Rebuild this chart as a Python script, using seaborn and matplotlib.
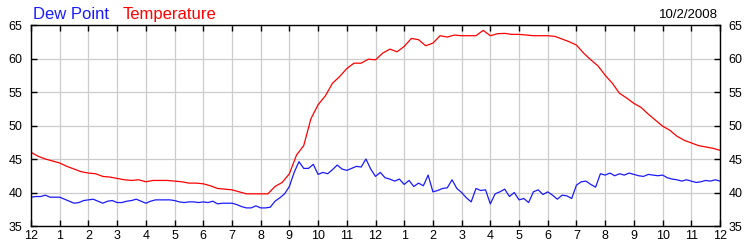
import numpy as np
import pandas as pd
import matplotlib
matplotlib.use("Agg")
import matplotlib.pyplot as plt
import seaborn as sns

# ---- data ----
hour_labels = ["12", "1", "2", "3", "4", "5", "6", "7", "8", "9", "10", "11",
               "12", "1", "2", "3", "4", "5", "6", "7", "8", "9", "10", "11", "12"]

# temperature, every 15 minutes from midnight to midnight
temperature = [
    46.0, 45.4, 45.0, 44.7, 44.4, 43.9, 43.5, 43.1, 42.9, 42.8, 42.4, 42.3,
    42.1, 41.9, 41.8, 41.9, 41.6, 41.8, 41.8, 41.8, 41.7, 41.6, 41.4, 41.4,
    41.3, 41.0, 40.6, 40.5, 40.4, 40.1, 39.8, 39.8, 39.8, 39.8, 40.9, 41.5,
    42.8, 45.6, 47.0, 51.0, 53.1, 54.4, 56.3, 57.3, 58.5, 59.3, 59.3, 59.9,
    59.8, 60.8, 61.4, 61.0, 61.8, 63.0, 62.8, 61.9, 62.3, 63.4, 63.2, 63.5,
    63.4, 63.4, 63.4, 64.2, 63.4, 63.7, 63.75, 63.6, 63.6, 63.5, 63.4, 63.4,
    63.4, 63.3, 62.9, 62.5, 62.0, 60.8, 59.8, 58.9, 57.5, 56.3, 54.8, 54.1,
    53.3, 52.7, 51.7, 50.8, 49.9, 49.3, 48.4, 47.8, 47.4, 47.0, 46.8, 46.6,
    46.3,
]

# dew point, every 10 minutes from midnight to midnight
dew_point = [
    39.3, 39.4, 39.4, 39.6, 39.3, 39.3,
    39.3, 39.0, 38.7, 38.4, 38.5, 38.8,
    38.9, 39.0, 38.7, 38.4, 38.7, 38.8,
    38.5, 38.5, 38.7, 38.8, 39.0, 38.7,
    38.4, 38.7, 38.9, 38.9, 38.9, 38.9,
    38.8, 38.6, 38.5, 38.6, 38.6, 38.5,
    38.6, 38.5, 38.7, 38.3, 38.4, 38.4,
    38.4, 38.2, 37.9, 37.7, 37.7, 38.0,
    37.7, 37.7, 37.8, 38.7, 39.2, 39.8,
    40.9, 43.0, 44.6, 43.6, 43.6, 44.2,
    42.7, 43.0, 42.8, 43.4, 44.1, 43.5,
    43.3, 43.6, 43.9, 43.8, 45.0, 43.5,
    42.4, 43.0, 42.2, 42.0, 41.7, 42.0,
    41.2, 41.8, 40.9, 41.4, 41.0, 42.6,
    40.1, 40.3, 40.6, 40.7, 41.9, 40.6,
    40.0, 39.2, 38.6, 40.6, 40.3, 40.4,
    38.3, 39.8, 40.1, 40.5, 39.4, 40.0,
    38.9, 39.1, 38.5, 40.1, 40.4, 39.7,
    40.1, 39.6, 39.0, 39.6, 39.5, 39.1,
    41.1, 41.6, 41.7, 41.2, 40.8, 42.8,
    42.6, 42.9, 42.5, 42.8, 42.6, 42.9,
    42.7, 42.5, 42.4, 42.7, 42.6, 42.5,
    42.6, 42.2, 42.0, 41.9, 41.7, 41.9,
    41.7, 41.5, 41.6, 41.8, 41.7, 41.9,
    41.7,
]

title_dew = "Dew Point"
title_temp = "Temperature"
date_label = "10/2/2008"

# ---- frames ----
temp_df = pd.DataFrame({"hour": np.arange(len(temperature)) / 4.0, "value": temperature})
dew_df = pd.DataFrame({"hour": np.arange(len(dew_point)) / 6.0, "value": dew_point})

sns.set_theme(style="white")
plt.rcParams["font.family"] = ["Liberation Sans", "DejaVu Sans"]

fig = plt.figure(figsize=(7.5, 2.5), dpi=100)
ax = fig.add_axes([31 / 750, 1 - 226 / 250, (720 - 31) / 750, (226 - 25) / 250])

sns.lineplot(data=temp_df, x="hour", y="value", ax=ax, color="#ff0000", linewidth=0.9)
sns.lineplot(data=dew_df, x="hour", y="value", ax=ax, color="#1a1aff", linewidth=0.9)

ax.set_xlim(0, 24)
ax.set_ylim(35, 65)
ax.set_xticks(range(25))
ax.set_xticklabels(hour_labels)
ax.set_yticks(range(35, 66, 5))
ax.set_xlabel("")
ax.set_ylabel("")
ax.grid(True, color="#cccccc", linewidth=0.9)
ax.set_axisbelow(True)
for s in ax.spines.values():
    s.set_color("black")
    s.set_linewidth(1.0)

ax.tick_params(axis="both", which="both", direction="in", length=4, width=1,
               color="black", labelsize=9, labelcolor="black",
               top=True, bottom=True, left=True, right=True,
               labelleft=True, labelright=True, labelbottom=True, labeltop=False)
ax.tick_params(axis="x", pad=3)
ax.tick_params(axis="y", pad=6)

fig.text(33 / 750, 1 - 19 / 250, title_dew, color="#1a1aff", fontsize=12, ha="left", va="baseline")
fig.text(123 / 750, 1 - 19 / 250, title_temp, color="#ff0000", fontsize=12, ha="left", va="baseline")
fig.text(718 / 750, 1 - 18 / 250, date_label, color="black", fontsize=9.5, ha="right", va="baseline")

fig.savefig("out.png", dpi=100)
